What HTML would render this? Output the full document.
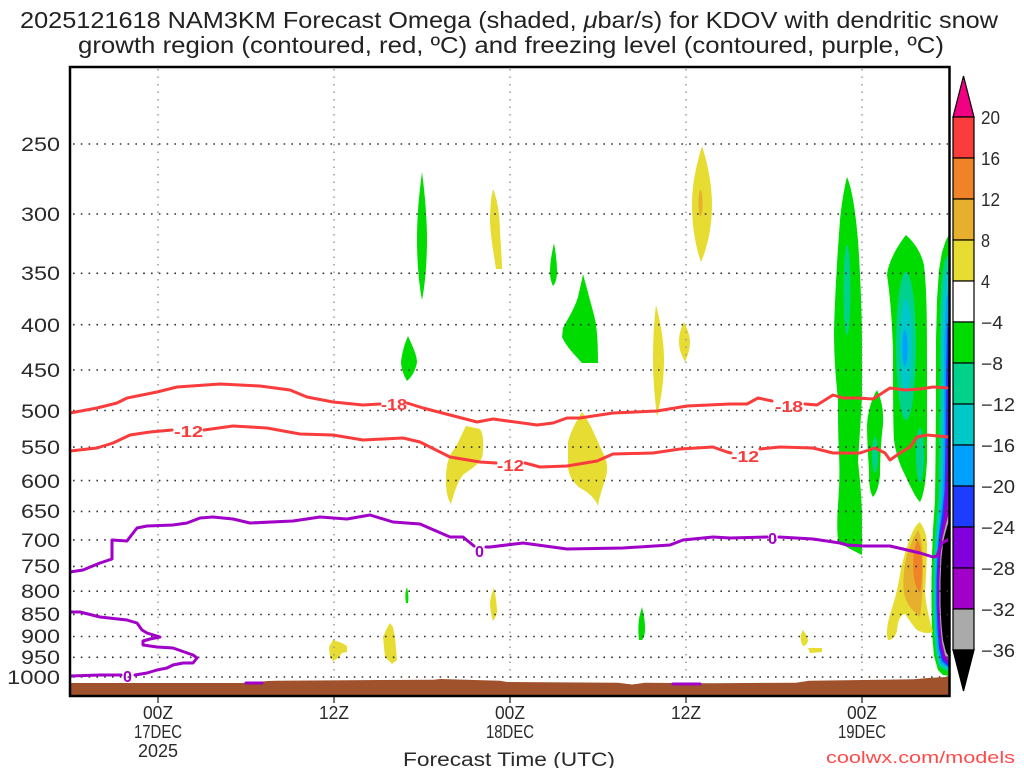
<!DOCTYPE html>
<html><head><meta charset="utf-8"><style>
html,body{margin:0;padding:0;background:#fff;}
svg{display:block;}
text{font-family:"Liberation Sans",sans-serif;}
</style></head><body>
<svg width="1024" height="768" viewBox="0 0 1024 768" xmlns="http://www.w3.org/2000/svg">
<defs><clipPath id="pc"><rect x="70" y="67" width="879.5" height="629"/></clipPath></defs>
<rect width="1024" height="768" fill="#fff"/>

<!-- Title -->
<text x="20" y="28" font-size="23" fill="#222" textLength="978" lengthAdjust="spacingAndGlyphs">2025121618 NAM3KM Forecast Omega (shaded, <tspan font-style="italic">μ</tspan>bar/s) for KDOV with dendritic snow</text>
<text x="78" y="53" font-size="23" fill="#222" textLength="866" lengthAdjust="spacingAndGlyphs">growth region (contoured, red, ºC) and freezing level (contoured, purple, ºC)</text>

<g clip-path="url(#pc)">
<!-- shaded blobs -->
<g fill="#00DC00">
<path d="M422,172 C425,195 427,220 427,240 C427,262 425,285 422,300 C419,285 417,262 417,240 C417,215 419,195 422,172 Z"/>
<path d="M408,336 C412,345 417,355 417,362 C416,370 411,378 407,381 C404,376 401,368 401,362 C402,352 405,343 408,336 Z"/>
<path d="M407,587 C408,592 409,597 408,603 L406,603 C405,597 405,592 407,587 Z"/>
<path d="M554,243 C556,255 557,263 557,272 C557,279 555,284 553,286 C551,282 550,277 550,272 C550,262 552,252 554,243 Z"/>
<path d="M583,274 C586,285 590,300 594,315 C597,327 598,340 598,363 L582,363 C576,356 567,348 562,337 L563,328 C568,318 574,310 578,297 C580,288 582,280 583,274 Z"/>
<path d="M642,607 C644,615 645,622 645,628 C645,634 644,638 642,640 L639,640 C638,632 638,622 640,614 Z"/>
<path d="M847,177 C851,186 855,205 858,240 C860,270 862,310 862,340 L862,395 C861,420 859,445 858,462 C860,480 862,500 862,520 L862,555 C856,552 850,549 845,546 L838,541 C837,530 837,520 838,505 C839,490 840,475 839,455 C838,435 838,415 838,400 C836,380 834,360 834,330 C835,295 837,260 840,220 C842,200 845,185 847,177 Z"/>
<path d="M877,390 C881,398 884,410 883,425 C881,440 880,460 880,475 C879,485 877,493 873,497 C870,492 869,485 869,470 C868,455 867,440 867,425 C868,410 872,398 877,390 Z"/>
<path d="M906,235 C914,242 921,252 924,265 C927,290 927,330 927,360 C927,400 927,440 927,460 C926,480 924,495 920,502 C916,498 912,490 905,475 C900,465 896,455 894,440 C893,420 893,380 893,350 C892,320 890,295 887,275 C888,262 898,245 906,235 Z"/>
<path d="M949,235 L946,240 L942,252 L939,270 L937,300 L936,340 L936,400 L935.5,460 L935,500 L933,530 L932,555 L931.5,580 L931.5,605 L932,633 L934,656 L938,670 L943,675 L951,676 L951,235 Z"/>
</g>
<g fill="#00D28C">
<ellipse cx="847" cy="290" rx="3.5" ry="45"/>
<ellipse cx="875" cy="455" rx="3" ry="18"/>
<ellipse cx="906" cy="346" rx="10" ry="74"/>
<ellipse cx="920" cy="455" rx="4" ry="27"/>
<path d="M951,250 L944,262 L941,285 L940,320 L939.5,400 L939,460 L938,500 L935.5,530 L934,553 L933.5,580 L933.5,605 L934,632 L936,654 L939,667 L951,673 Z"/>
</g>
<g fill="#00C8C8">
<ellipse cx="906" cy="346" rx="6" ry="47"/>
<path d="M951,262 L945,275 L943,300 L942,340 L942,400 L941.5,460 L940,500 L937,530 L935.5,553 L934.5,580 L934.5,605 L935,631 L937,652 L940,665 L951,671 Z"/>
</g>
<g fill="#00A0FF">
<ellipse cx="905" cy="348" rx="2.5" ry="18"/>
<path d="M951,280 L946,300 L944.5,340 L944,400 L943.5,460 L942,500 L939,530 L936.5,553 L935.5,580 L935.5,605 L936,630 L938,650 L941,663 L951,670 Z"/>
</g>
<path fill="#1E3CFF" d="M951,300 L947,330 L946,380 L945.5,440 L944.5,490 L942,515 L939,535 L937.5,556 L936.5,580 L936.5,605 L937.5,629 L939,648 L942,661 L951,669 Z"/>
<path fill="#8200DC" d="M951,330 L948,360 L947.5,420 L946.5,470 L944,515 L940.5,536 L938.5,556 L937.5,580 L937.5,605 L938.5,628 L940,646 L943,659 L951,667 Z"/>
<path fill="#A000C8" d="M951,480 L947,505 L944.5,520 L941.5,537 L939.5,556 L938.5,580 L938.5,605 L939.5,627 L941,644 L944,657 L951,665 Z"/>
<path fill="#AAAAAA" d="M951,505 L946,524 L942.5,538 L940.5,557 L939.5,580 L939.5,605 L940.5,626 L942,642 L945,655 L951,663 Z"/>
<path fill="#000" d="M951,515 L947,527 L943.5,540 L941.5,558 L940.5,580 L940.5,605 L941.5,625 L943,640 L946,652 L951,660 Z"/>

<g fill="#E6DC32">
<path d="M493,189 C497,198 500,215 500,232 C501,248 502,260 502,269 L496,269 C494,255 491,240 490,222 C490,208 491,197 493,189 Z"/>
<path d="M702,146 C708,165 712,185 712,205 C712,228 707,248 701,262 C696,248 692,228 692,205 C692,182 697,163 702,146 Z"/>
<path d="M656,305 C660,320 664,340 664,360 C664,380 661,400 657,417 C655,400 653,380 653,360 C653,340 654,320 656,305 Z"/>
<path d="M684,322 C688,330 690,337 690,342 C690,350 687,357 685,362 C682,356 679,350 679,342 C679,334 681,328 684,322 Z"/>
<path d="M466,426 L480,429 C484,435 484,448 482,458 C478,465 470,470 464,474 C458,480 455,490 451,504 C447,498 446,490 446,480 C446,470 447,460 452,452 C458,445 461,435 466,426 Z"/>
<path d="M582,412 C590,422 597,440 604,455 C608,463 608,472 605,480 C602,490 599,498 598,506 C595,498 588,492 580,488 C572,482 568,474 568,465 L568,442 C571,430 577,420 582,412 Z"/>
<path d="M494,588 C496,598 497,606 497,612 C496,617 494,620 493,621 C491,615 490,608 490,602 C491,596 492,592 494,588 Z"/>
<path d="M333,640 L342,643 L347,646 L347,652 L342,653 L338,658 L333,661 L330,657 L329,647 Z"/>
<path d="M390,623 L393,627 L395,637 L397,660 L392,664 L385,657 L383,637 L387,628 Z"/>
<path d="M803,630 C806,634 808,638 808,641 C807,644 805,646 803,646 C801,643 800,638 801,634 Z"/>
<path d="M808,648 L822,648 L822,652 L810,653 Z"/>
<path d="M920,522 C924,528 927,535 927,545 C927,560 926,580 925,593 C926,605 929,618 933,632 C928,634 922,633 917,630 C913,626 910,621 905,614 C901,614 898,620 897,630 C896,637 892,640 888,640 C886,634 887,627 889,618 C892,608 896,597 899,580 C902,562 907,545 912,533 C915,527 917,524 920,522 Z"/>
</g>
<g fill="#E6AF2D">
<ellipse cx="700.5" cy="203" rx="2" ry="13"/>
<path d="M918,530 C921,535 923,548 923,567 C923,585 922,600 920,617 C914,612 909,607 906,600 C903,592 903,583 904,572 C905,560 909,545 918,530 Z"/>
</g>
<path fill="#F08228" d="M918,540 C921,548 922,556 922,567 C922,578 921,587 920,593 C917,589 915,584 914,578 C913,570 913,560 914,552 C915,547 916,543 918,540 Z"/>

<!-- gridlines -->
<g stroke="#999" stroke-width="1.5" stroke-dasharray="1.5 6">
<line x1="158" y1="69" x2="158" y2="695"/><line x1="334" y1="69" x2="334" y2="695"/>
<line x1="510" y1="69" x2="510" y2="695"/><line x1="686" y1="69" x2="686" y2="695"/>
<line x1="862" y1="69" x2="862" y2="695"/>
</g>
<g stroke="#333" stroke-width="1.6" stroke-dasharray="1.6 6.2">
<line x1="73" y1="144" x2="948" y2="144"/><line x1="73" y1="214" x2="948" y2="214"/>
<line x1="73" y1="273.3" x2="948" y2="273.3"/><line x1="73" y1="324.7" x2="948" y2="324.7"/>
<line x1="73" y1="370" x2="948" y2="370"/><line x1="73" y1="410.5" x2="948" y2="410.5"/>
<line x1="73" y1="447.1" x2="948" y2="447.1"/><line x1="73" y1="480.6" x2="948" y2="480.6"/>
<line x1="73" y1="511.4" x2="948" y2="511.4"/><line x1="73" y1="539.9" x2="948" y2="539.9"/>
<line x1="73" y1="566.4" x2="948" y2="566.4"/><line x1="73" y1="591.2" x2="948" y2="591.2"/>
<line x1="73" y1="614.5" x2="948" y2="614.5"/><line x1="73" y1="636.5" x2="948" y2="636.5"/>
<line x1="73" y1="657.3" x2="948" y2="657.3"/><line x1="73" y1="677" x2="948" y2="677"/>
</g>

<!-- ground -->
<path fill="#A0522D" d="M70,683 L245,683 L268,681 L276,680.7 L434,679.7 L440,679 L500,680.7 L507,682 L618,682.7 L632,684.5 L645,682.7 L710,683.3 L796,682.7 L809,680.7 L914,679.3 L928,678 L951,676.7 L951,697 L70,697 Z"/>

<!-- contours red -->
<g fill="none" stroke="#FA3C3C" stroke-width="3" stroke-linejoin="round" stroke-linecap="round">
<polyline points="70,413 97,408 117,403 127,398 157,392 177,387 220,384 260,386 290,390 307,397 333,402 363,405 380,404"/>
<polyline points="407,403 423,408 477,422 493,419 537,425 553,423 567,418 580,418 613,413 657,411 687,406 730,404 747,404 758,398 772,401"/>
<polyline points="805,404 817,405 833,395 843,398 857,398 873,399 890,388 905,390 920,389 933,387 949,388"/>
<polyline points="70,451 97,448 113,443 130,435 150,432 172,430"/>
<polyline points="204,430 233,426 267,428 300,434 333,435 363,440 403,438 420,442 450,457 480,462 496,463"/>
<polyline points="525,463 540,467 567,466 597,461 613,454 653,453 680,449 713,447 727,452 731,453"/>
<polyline points="760,449 780,447 813,448 833,453 860,453 875,448 885,453 890,460 900,453 910,447 917,437 927,435 949,437"/>
</g>
<!-- contours purple -->
<g fill="none" stroke="#A000C8" stroke-width="3" stroke-linejoin="round" stroke-linecap="round">
<polyline points="70,572 83,570 100,563 112,559 112,540 127,541 130,537 137,528 147,526 173,525 187,523 200,518 213,517 233,519 250,523 293,521 320,517 347,519 370,515 393,522 420,524 450,537 463,537 474,546"/>
<polyline points="486,547 490,547 523,543 567,549 623,548 670,545 683,540 713,537 730,538 767,537"/>
<polyline points="779,537 813,539 840,543 847,545 863,546 890,546 920,553 933,557 937,556 942,543 949,539"/>
<polyline points="70,612 80,612 100,617 127,620 137,623 142,630 147,633 160,637 150,639 143,641 143,645 157,647 173,648 193,655 197,658 193,663 183,663 173,665 167,668 157,670 147,673 135,675"/>
<polyline points="121,675 100,675 70,676"/>
<line x1="246" y1="683" x2="262" y2="683"/>
<line x1="673" y1="684" x2="700" y2="684"/>
</g>
<!-- contour labels -->
<g font-size="16" font-weight="bold" fill="#FA3C3C">
<text x="381" y="410" textLength="26" lengthAdjust="spacingAndGlyphs">-18</text>
<text x="775" y="412" textLength="28" lengthAdjust="spacingAndGlyphs">-18</text>
<text x="174" y="437" textLength="29" lengthAdjust="spacingAndGlyphs">-12</text>
<text x="497" y="471" textLength="27" lengthAdjust="spacingAndGlyphs">-12</text>
<text x="731" y="462" textLength="28" lengthAdjust="spacingAndGlyphs">-12</text>
</g>
<g font-size="16" font-weight="bold" fill="#A000C8">
<text x="123" y="682" textLength="9" lengthAdjust="spacingAndGlyphs">0</text>
<text x="475" y="557" textLength="9" lengthAdjust="spacingAndGlyphs">0</text>
<text x="768" y="544" textLength="9" lengthAdjust="spacingAndGlyphs">0</text>
</g>
</g>

<!-- frame -->
<rect x="70" y="67" width="879.5" height="629" fill="none" stroke="#000" stroke-width="2.5"/>

<!-- x ticks -->
<g stroke="#444" stroke-width="1.5">
<line x1="158" y1="697" x2="158" y2="703"/><line x1="334" y1="697" x2="334" y2="703"/>
<line x1="510" y1="697" x2="510" y2="703"/><line x1="686" y1="697" x2="686" y2="703"/>
<line x1="862" y1="697" x2="862" y2="703"/>
</g>

<!-- y labels -->
<g font-size="19" fill="#2a2a2a">
<text x="21" y="151" textLength="39" lengthAdjust="spacingAndGlyphs">250</text>
<text x="21" y="221" textLength="39" lengthAdjust="spacingAndGlyphs">300</text>
<text x="21" y="280" textLength="39" lengthAdjust="spacingAndGlyphs">350</text>
<text x="21" y="332" textLength="39" lengthAdjust="spacingAndGlyphs">400</text>
<text x="21" y="377" textLength="39" lengthAdjust="spacingAndGlyphs">450</text>
<text x="21" y="418" textLength="39" lengthAdjust="spacingAndGlyphs">500</text>
<text x="21" y="454" textLength="39" lengthAdjust="spacingAndGlyphs">550</text>
<text x="21" y="488" textLength="39" lengthAdjust="spacingAndGlyphs">600</text>
<text x="21" y="518" textLength="39" lengthAdjust="spacingAndGlyphs">650</text>
<text x="21" y="547" textLength="39" lengthAdjust="spacingAndGlyphs">700</text>
<text x="21" y="573" textLength="39" lengthAdjust="spacingAndGlyphs">750</text>
<text x="21" y="598" textLength="39" lengthAdjust="spacingAndGlyphs">800</text>
<text x="21" y="621" textLength="39" lengthAdjust="spacingAndGlyphs">850</text>
<text x="21" y="643" textLength="39" lengthAdjust="spacingAndGlyphs">900</text>
<text x="21" y="664" textLength="39" lengthAdjust="spacingAndGlyphs">950</text>
<text x="7" y="684" textLength="53" lengthAdjust="spacingAndGlyphs">1000</text>
</g>

<!-- x labels -->
<g font-size="18" fill="#2a2a2a">
<text x="143" y="719" textLength="30" lengthAdjust="spacingAndGlyphs">00Z</text>
<text x="134" y="738" textLength="48" lengthAdjust="spacingAndGlyphs">17DEC</text>
<text x="138" y="757" textLength="40" lengthAdjust="spacingAndGlyphs">2025</text>
<text x="319" y="719" textLength="30" lengthAdjust="spacingAndGlyphs">12Z</text>
<text x="495" y="719" textLength="30" lengthAdjust="spacingAndGlyphs">00Z</text>
<text x="486" y="738" textLength="48" lengthAdjust="spacingAndGlyphs">18DEC</text>
<text x="671" y="719" textLength="30" lengthAdjust="spacingAndGlyphs">12Z</text>
<text x="847" y="719" textLength="30" lengthAdjust="spacingAndGlyphs">00Z</text>
<text x="838" y="738" textLength="48" lengthAdjust="spacingAndGlyphs">19DEC</text>
<text x="403" y="766" font-size="19" textLength="212" lengthAdjust="spacingAndGlyphs">Forecast Time (UTC)</text>
</g>
<text x="826" y="763" font-size="17" fill="#FF4A4A" textLength="189" lengthAdjust="spacingAndGlyphs">coolwx.com/models</text>

<!-- colorbar -->
<g stroke="#000" stroke-width="1.2">
<polygon points="953,117 974,117 963.5,76" fill="#F00082"/>
<rect x="953" y="117" width="21" height="41" fill="#FA3C3C"/>
<rect x="953" y="158" width="21" height="41" fill="#F08228"/>
<rect x="953" y="199" width="21" height="41" fill="#E6AF2D"/>
<rect x="953" y="240" width="21" height="41" fill="#E6DC32"/>
<rect x="953" y="281" width="21" height="41" fill="#FFFFFF"/>
<rect x="953" y="322" width="21" height="41" fill="#00DC00"/>
<rect x="953" y="363" width="21" height="41" fill="#00D28C"/>
<rect x="953" y="404" width="21" height="41" fill="#00C8C8"/>
<rect x="953" y="445" width="21" height="41" fill="#00A0FF"/>
<rect x="953" y="486" width="21" height="41" fill="#1E3CFF"/>
<rect x="953" y="527" width="21" height="41" fill="#8200DC"/>
<rect x="953" y="568" width="21" height="41" fill="#A000C8"/>
<rect x="953" y="609" width="21" height="41" fill="#AAAAAA"/>
<polygon points="953,650 974,650 963.5,691" fill="#000"/>
</g>
<g font-size="18" fill="#2a2a2a">
<text x="981" y="124" textLength="19" lengthAdjust="spacingAndGlyphs">20</text>
<text x="981" y="165" textLength="19" lengthAdjust="spacingAndGlyphs">16</text>
<text x="981" y="206" textLength="19" lengthAdjust="spacingAndGlyphs">12</text>
<text x="981" y="247" textLength="9" lengthAdjust="spacingAndGlyphs">8</text>
<text x="981" y="288" textLength="9" lengthAdjust="spacingAndGlyphs">4</text>
<text x="981" y="329" textLength="22" lengthAdjust="spacingAndGlyphs">−4</text>
<text x="981" y="370" textLength="22" lengthAdjust="spacingAndGlyphs">−8</text>
<text x="981" y="411" textLength="34" lengthAdjust="spacingAndGlyphs">−12</text>
<text x="981" y="452" textLength="34" lengthAdjust="spacingAndGlyphs">−16</text>
<text x="981" y="493" textLength="34" lengthAdjust="spacingAndGlyphs">−20</text>
<text x="981" y="534" textLength="34" lengthAdjust="spacingAndGlyphs">−24</text>
<text x="981" y="575" textLength="34" lengthAdjust="spacingAndGlyphs">−28</text>
<text x="981" y="616" textLength="34" lengthAdjust="spacingAndGlyphs">−32</text>
<text x="981" y="657" textLength="34" lengthAdjust="spacingAndGlyphs">−36</text>
</g>
</svg>
</body></html>
